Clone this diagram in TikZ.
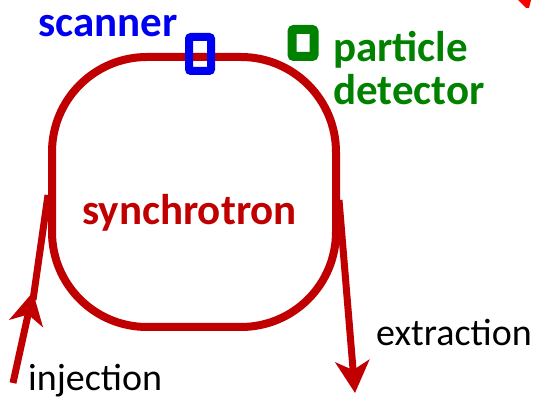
\documentclass[tikz,border=0pt]{standalone}
\usepackage{fontspec}
\setmainfont{Carlito}
\usepackage{tikz}
\usetikzlibrary{arrows.meta}
\definecolor{ringred}{RGB}{192,0,0}
\definecolor{scanblue}{RGB}{0,0,240}
\definecolor{detgreen}{RGB}{0,130,0}
\tikzset{
    beam/.style={ringred, line width=7pt},
    beamtip/.style={-{Stealth[length=32pt, width=34pt, inset=9pt]}},
    bigbold/.style={font=\fontsize{43}{44}\selectfont\bfseries, inner sep=0pt},
    plain/.style={font=\fontsize{38}{40}\selectfont, inner sep=0pt, text=black}
}
\begin{document}
\begin{tikzpicture}[x=1pt, y=-1pt]
        \def\rw{284}
        \def\rh{270}
        \def\rr{95}
        \useasboundingbox (0,0) rectangle (539,403);
        \node[draw=ringred, line width=8pt, minimum width=\rw pt, minimum height=\rh pt, rounded corners=\rr pt, inner sep=0pt] (ring) at (194,192) {};
        \node[bigbold, text=ringred, anchor=base west] (synlabel) at (82,225) {synchrotron};
        \node[draw=scanblue, line width=8pt, minimum width=22pt, minimum height=34pt, rounded corners=2pt, inner sep=0pt] (scanner) at (200,54) {};
        \node[bigbold, text=scanblue, anchor=base west] (scanlabel) at (38,37) {scanner};
        \node[draw=detgreen, line width=9pt, minimum width=22pt, minimum height=27pt, rounded corners=2pt, inner sep=0pt] (detector) at (303,43) {};
        \node[bigbold, text=detgreen, anchor=base west] (detlabel) at (333,62) {particle};
        \node[bigbold, text=detgreen, anchor=base west] (detlabel2) at (333,105) {detector};
        \coordinate (injstart) at (13,383);
        \coordinate (injtip) at (33,292);
        \coordinate (extend) at (355,393);
        \draw[beam, beamtip] (injstart) -- (injtip);
        \draw[beam] ([yshift=-8pt]injtip) -- ([yshift=-3pt]ring.west);
        \draw[beam, beamtip] ([xshift=-1pt, yshift=-8pt]ring.east) -- (extend);
        \node[plain, anchor=base west] (injlabel) at (28,391) {injection};
        \node[plain, anchor=base west] (extlabel) at (376,346) {extraction};
        \fill[red!90!ringred] (518,0) -- (531,0) -- (529,8) -- (526,8) -- cycle;
\end{tikzpicture}
\end{document}
